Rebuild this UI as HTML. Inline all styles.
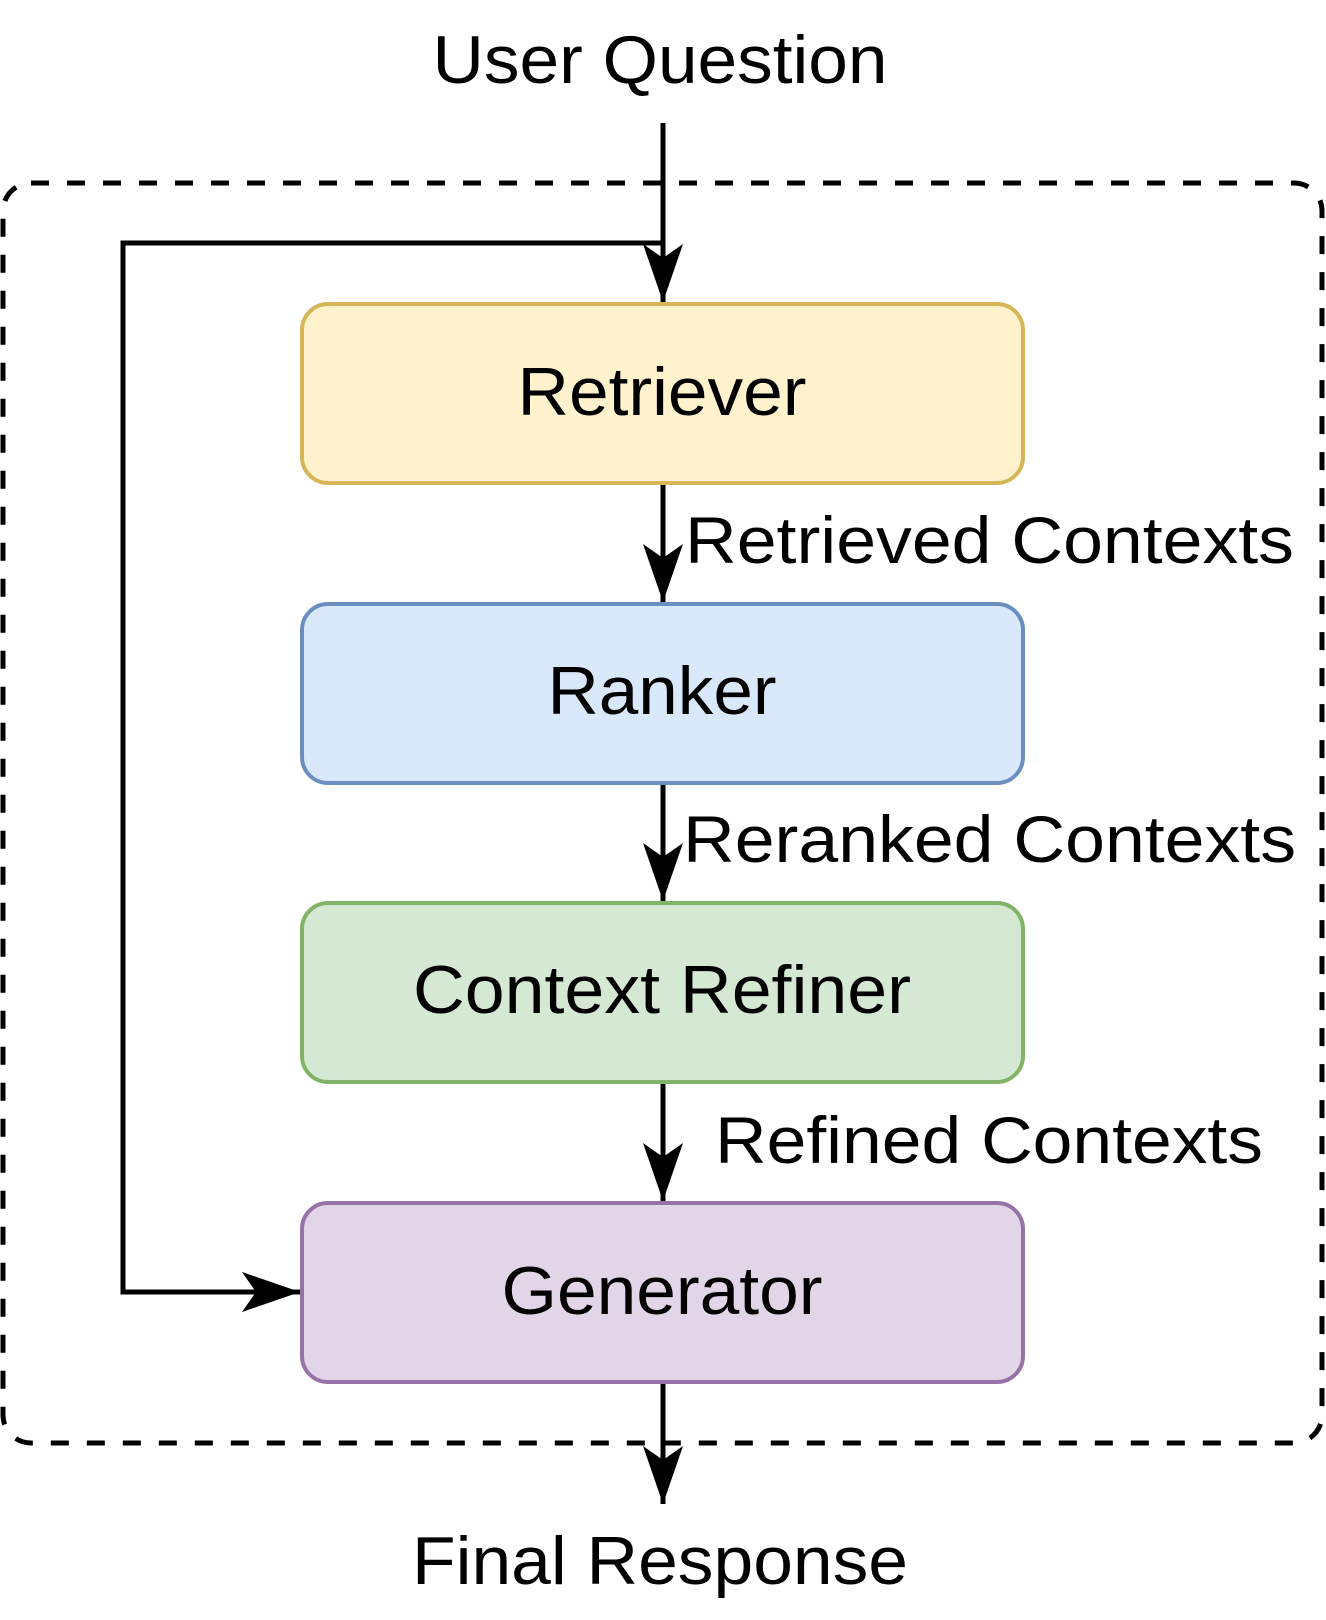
<!DOCTYPE html>
<html><head><meta charset="utf-8"><style>html,body{margin:0;padding:0;background:#fff}svg{display:block}</style></head>
<body>
<svg width="1326" height="1620" viewBox="0 0 1326 1620" xmlns="http://www.w3.org/2000/svg" font-family="Liberation Sans, Arial, sans-serif">
<defs>
<marker id="a" markerUnits="userSpaceOnUse" markerWidth="58" markerHeight="40" refX="58" refY="20" viewBox="0 0 58 40" orient="auto">
<path d="M0,0 L58,20 L0,40 L14,20 Z" fill="#000"/>
</marker>
</defs>
<rect x="3" y="183" width="1319" height="1260" rx="28" fill="none" stroke="#000" stroke-width="5" stroke-dasharray="18 18"/>
<g stroke-width="4">
<rect x="302" y="304" width="721" height="179" rx="26" fill="#fff2cc" stroke="#d6b656"/>
<rect x="302" y="604" width="721" height="179" rx="26" fill="#dae8fc" stroke="#6c8ebf"/>
<rect x="302" y="903" width="721" height="179" rx="26" fill="#d5e8d4" stroke="#82b366"/>
<rect x="302" y="1203" width="721" height="179" rx="26" fill="#e1d5e7" stroke="#9673a6"/>
</g>
<g stroke="#000" stroke-width="5" fill="none">
<line x1="663" y1="123" x2="663" y2="302" marker-end="url(#a)"/>
<polyline points="663,243 123,243 123,1292 300,1292" marker-end="url(#a)"/>
<line x1="663" y1="485" x2="663" y2="602" marker-end="url(#a)"/>
<line x1="663" y1="785" x2="663" y2="901" marker-end="url(#a)"/>
<line x1="663" y1="1084" x2="663" y2="1201" marker-end="url(#a)"/>
<line x1="663" y1="1384" x2="663" y2="1504" marker-end="url(#a)"/>
</g>
<g fill="#000" font-size="68" text-anchor="middle" dominant-baseline="central">
<text x="660" y="60" textLength="455" lengthAdjust="spacingAndGlyphs">User Question</text>
<text x="662" y="392" textLength="289" lengthAdjust="spacingAndGlyphs">Retriever</text>
<text x="662" y="691" textLength="229" lengthAdjust="spacingAndGlyphs">Ranker</text>
<text x="662" y="990" textLength="498" lengthAdjust="spacingAndGlyphs">Context Refiner</text>
<text x="662" y="1291" textLength="321" lengthAdjust="spacingAndGlyphs">Generator</text>
<text x="660" y="1561" textLength="496" lengthAdjust="spacingAndGlyphs">Final Response</text>
</g>
<g fill="#000" font-size="66" dominant-baseline="central">
<text x="685" y="540" textLength="609" lengthAdjust="spacingAndGlyphs">Retrieved Contexts</text>
<text x="683" y="839" textLength="613" lengthAdjust="spacingAndGlyphs">Reranked Contexts</text>
<text x="715" y="1140" textLength="548" lengthAdjust="spacingAndGlyphs">Refined Contexts</text>
</g>
</svg>
</body></html>
